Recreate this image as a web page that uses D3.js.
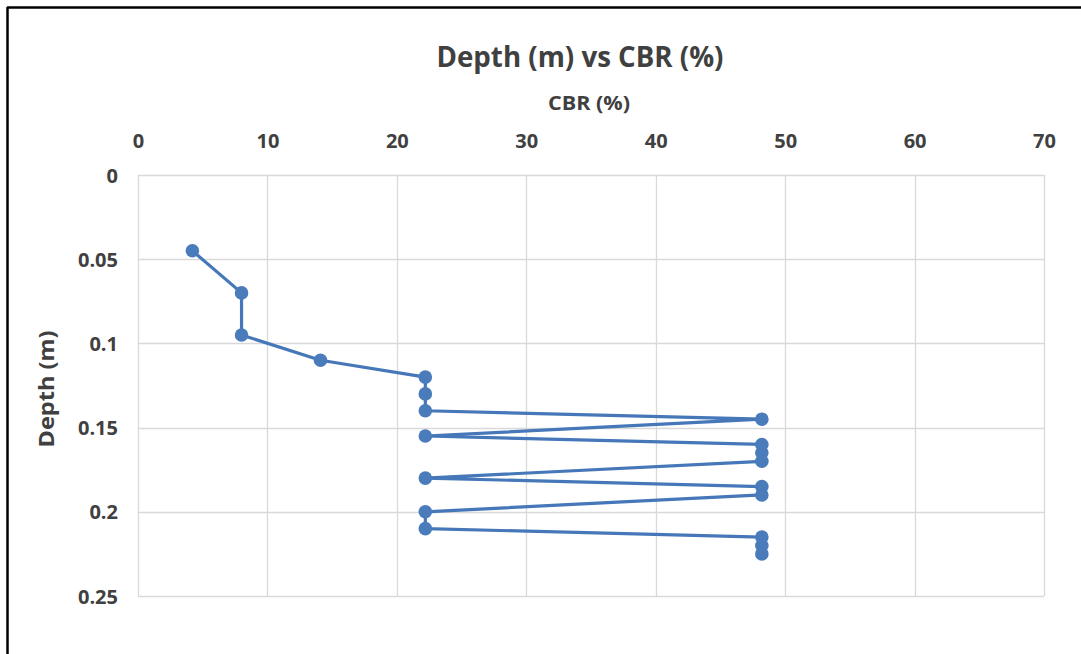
<!DOCTYPE html>
<html>
<head>
<meta charset="utf-8">
<script src="https://cdn.jsdelivr.net/npm/d3@7"></script>
<style>
  html, body { margin: 0; padding: 0; background: #fff; }
  svg { display: block; font-family: "Open Sans", "Noto Sans", sans-serif; }
</style>
</head>
<body>
<svg id="chart" width="1081" height="654"></svg>
<script>
// CBR test readings against depth
const cbr   = [4.2, 8, 8, 14.1, 22.2, 22.2, 22.2, 48.2, 22.2, 48.2, 48.2, 48.2, 22.2, 48.2, 48.2, 22.2, 22.2, 48.2, 48.2, 48.2];
const depth = [0.045, 0.07, 0.095, 0.11, 0.12, 0.13, 0.14, 0.145, 0.155, 0.16, 0.165, 0.17, 0.18, 0.185, 0.19, 0.2, 0.21, 0.215, 0.22, 0.225];
const xTicks = [0, 10, 20, 30, 40, 50, 60, 70];
const yTicks = [0, 0.05, 0.1, 0.15, 0.2, 0.25];
const yTickLabels = ["0", "0.05", "0.1", "0.15", "0.2", "0.25"];

const svg = d3.select("#chart");
const W = 1081, H = 654;
const plot = { left: 138, top: 175, right: 1044, bottom: 596 };
const FONT = "'Open Sans', 'Noto Sans', sans-serif";

const x = d3.scaleLinear().domain([0, 70]).range([plot.left, plot.right]);
const y = d3.scaleLinear().domain([0, 0.25]).range([plot.top, plot.bottom]);

const ink = "#404040";
const grid = "#d9d9d9";
const blue = "#4677b8";

// outer frame (top and left edges)
svg.append("line").attr("x1", 7).attr("x2", W).attr("y1", 7.5).attr("y2", 7.5)
  .attr("stroke", "#000").attr("stroke-width", 2.5);
svg.append("line").attr("x1", 7.5).attr("x2", 7.5).attr("y1", 7).attr("y2", H)
  .attr("stroke", "#000").attr("stroke-width", 2.5);

// gridlines
const g = svg.append("g");
g.selectAll("line.vx").data(xTicks).join("line")
  .attr("x1", d => Math.round(x(d)) + 0.5).attr("x2", d => Math.round(x(d)) + 0.5)
  .attr("y1", plot.top).attr("y2", plot.bottom)
  .attr("stroke", grid).attr("stroke-width", 1.3);
g.selectAll("line.hy").data(yTicks).join("line")
  .attr("x1", plot.left).attr("x2", plot.right)
  .attr("y1", d => Math.round(y(d)) + 0.5).attr("y2", d => Math.round(y(d)) + 0.5)
  .attr("stroke", grid).attr("stroke-width", 1.3);

// top x axis labels
const xAxis = d3.axisTop(x).tickValues(xTicks).tickSize(0).tickPadding(0);
const xa = svg.append("g").attr("transform", "translate(0,148)").call(xAxis)
  .attr("font-family", FONT);
xa.select(".domain").remove();
xa.selectAll("text").attr("fill", ink).attr("font-size", 20).attr("font-weight", "bold")
  .attr("dy", 0);

// left y axis labels
const yAxis = d3.axisLeft(y).tickValues(yTicks).tickFormat((d, i) => yTickLabels[i]).tickSize(0).tickPadding(0);
const ya = svg.append("g").attr("transform", "translate(118,0)").call(yAxis)
  .attr("font-family", FONT);
ya.select(".domain").remove();
ya.selectAll("text").attr("fill", ink).attr("font-size", 20).attr("font-weight", "bold").attr("dy", "0.35em");

// titles
svg.append("text").attr("x", 580).attr("y", 67).attr("text-anchor", "middle")
  .attr("fill", ink).attr("font-size", 28).attr("font-weight", "bold")
  .attr("textLength", 287).attr("lengthAdjust", "spacingAndGlyphs")
  .text("Depth (m) vs CBR (%)");
svg.append("text").attr("x", 589).attr("y", 110).attr("text-anchor", "middle")
  .attr("fill", ink).attr("font-size", 20).attr("font-weight", "bold")
  .attr("textLength", 82).attr("lengthAdjust", "spacingAndGlyphs")
  .text("CBR (%)");
svg.append("text").attr("transform", "translate(54,389) rotate(-90)").attr("text-anchor", "middle")
  .attr("fill", ink).attr("font-size", 21).attr("font-weight", "bold")
  .attr("textLength", 117).attr("lengthAdjust", "spacingAndGlyphs")
  .text("Depth (m)");

// series
const pts = cbr.map((c, i) => [c, depth[i]]);
svg.append("path").datum(pts)
  .attr("d", d3.line().x(d => x(d[0])).y(d => y(d[1])))
  .attr("fill", "none").attr("stroke", blue).attr("stroke-width", 3.2).attr("stroke-linejoin", "round");
svg.append("g").selectAll("circle").data(pts).join("circle")
  .attr("cx", d => x(d[0])).attr("cy", d => y(d[1])).attr("r", 6.8)
  .attr("fill", "#4a7cbc");
</script>
</body>
</html>
